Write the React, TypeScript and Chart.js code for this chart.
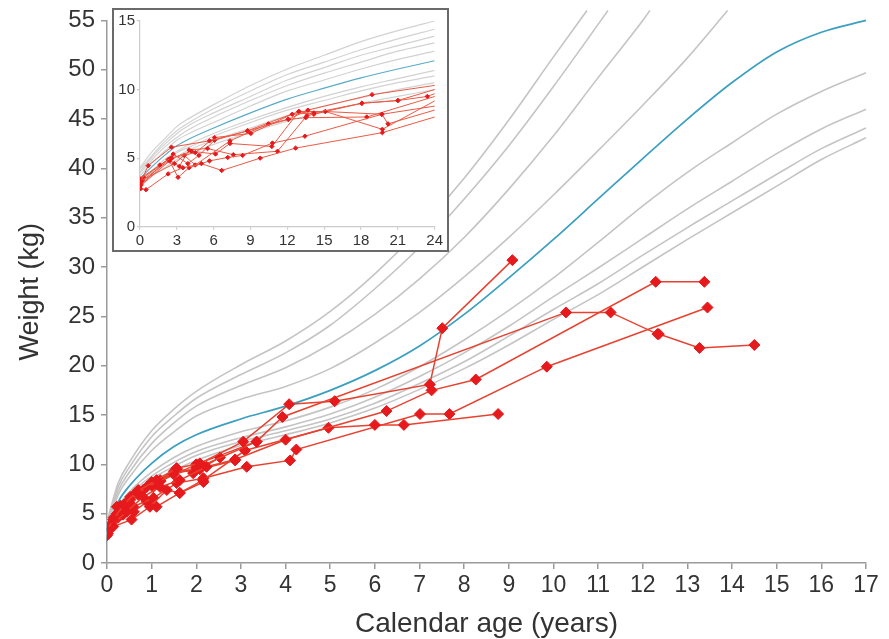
import React, { useEffect, useRef } from 'react';
import { Chart, registerables } from 'chart.js';

Chart.register(...registerables);

// ---------------- Main chart data (age in years, weight in kg) ----------------
const refAges = [0, 0.25, 0.5, 1, 1.5, 2, 3, 4, 5, 6, 7, 8, 9, 10, 11, 12, 13, 14, 15, 16, 17];
const refMedian = [3.3, 6.2, 7.8, 10.1, 11.8, 13.0, 14.6, 15.9, 17.5, 19.5, 22.0, 25.2, 28.9, 32.8, 36.9, 41.0, 45.0, 48.7, 51.8, 53.8, 55.0];
const refLow1 = [3.1, 5.7, 7.2, 9.2, 10.7, 11.8, 13.3, 14.4, 15.8, 17.6, 19.9, 22.6, 25.6, 28.9, 32.5, 36.2, 39.6, 42.6, 45.5, 47.8, 49.7];
const refLow2 = [3.0, 5.5, 6.9, 8.8, 10.2, 11.3, 12.7, 13.8, 15.1, 16.8, 18.9, 21.3, 24.0, 27.0, 29.9, 32.9, 35.9, 38.7, 41.5, 44.0, 46.0];
const refLow3 = [2.9, 5.3, 6.7, 8.5, 9.8, 10.9, 12.3, 13.4, 14.6, 16.2, 18.2, 20.4, 23.0, 25.7, 28.3, 31.2, 34.0, 36.7, 39.4, 42.0, 44.1];
const refLow4 = [2.8, 5.1, 6.4, 8.2, 9.4, 10.4, 11.9, 13.0, 14.2, 15.7, 17.6, 19.7, 22.1, 24.7, 27.2, 30.0, 32.8, 35.5, 38.2, 40.9, 43.1];

const refHigh1Ages = [0, 0.25, 0.5, 1, 1.5, 2, 3, 4, 5, 6, 7, 8, 9, 10, 11, 12, 13, 13.9];
const refHigh1 = [3.6, 6.9, 8.7, 11.4, 13.3, 14.9, 16.6, 17.9, 19.7, 22.3, 25.4, 29.0, 33.0, 37.3, 41.8, 46.4, 51.2, 56.0];
const refHigh2Ages = [0, 0.25, 0.5, 1, 1.5, 2, 3, 4, 5, 6, 7, 8, 9, 10, 11, 12, 12.16];
const refHigh2 = [3.8, 7.3, 9.2, 12.1, 14.2, 15.9, 18.0, 19.8, 22.2, 25.2, 28.8, 33.0, 37.9, 43.3, 49.2, 55.0, 56.0];
const refHigh3Ages = [0, 0.25, 0.5, 1, 1.5, 2, 3, 4, 5, 6, 7, 8, 9, 10, 11, 11.22];
const refHigh3 = [4.0, 7.7, 9.7, 12.8, 14.9, 16.7, 19.1, 21.3, 24.1, 27.8, 32.0, 36.9, 42.3, 48.3, 54.6, 56.0];
const refHigh4Ages = [0, 0.25, 0.5, 1, 1.5, 2, 3, 4, 5, 6, 7, 8, 9, 10, 10.75];
const refHigh4 = [4.2, 8.1, 10.2, 13.4, 15.6, 17.4, 20.1, 22.5, 25.5, 29.3, 33.8, 39.0, 44.9, 51.3, 56.0];

const ptAAge = [0.0, 0.14, 0.37, 0.66, 1.11, 1.56, 2.08, 3.05, 4.08, 5.1, 7.23, 7.51, 9.08];
const ptAKg = [3.3, 4.4, 5.9, 7.2, 8.4, 9.6, 10.1, 12.3, 16.1, 16.4, 18.1, 23.8, 30.7];
const ptBAge = [0.07, 0.44, 0.81, 1.19, 1.63, 2.23, 2.87, 4.0, 6.26, 7.27, 8.26, 12.29, 13.38];
const ptBKg = [3.7, 5.2, 6.7, 7.7, 8.4, 9.75, 10.5, 12.5, 15.4, 17.5, 18.6, 28.5, 28.5];
const ptCAge = [0.02, 0.22, 0.52, 0.89, 1.49, 2.0, 3.35, 3.93, 10.28, 11.28, 12.33, 12.36, 13.27, 14.5];
const ptCKg = [3.0, 5.0, 6.4, 7.7, 9.0, 9.6, 12.3, 14.8, 25.4, 25.4, 23.2, 23.2, 21.8, 22.1];
const ptDAge = [0.0, 0.14, 0.55, 0.96, 1.34, 1.63, 2.15, 3.09, 4.96, 6.0, 6.65, 8.76];
const ptDKg = [2.8, 3.7, 4.4, 5.7, 7.4, 7.1, 8.4, 11.4, 13.7, 14.0, 14.0, 15.1];
const ptEAge = [0.05, 0.36, 0.59, 1.04, 1.56, 2.16, 3.13, 4.1, 4.24, 7.01, 7.67, 9.85, 13.45];
const ptEKg = [3.4, 4.9, 5.7, 6.6, 8.1, 8.6, 9.75, 10.4, 11.5, 15.1, 15.1, 19.9, 25.9];
const ptFAge = [0.0, 0.22, 0.52, 0.7, 1.03, 1.19, 1.56, 1.93, 2.53];
const ptFKg = [3.1, 5.7, 6.7, 7.4, 7.7, 8.4, 9.6, 9.1, 10.7];
const ptGAge = [0.1, 0.3, 0.5, 0.81, 1.11, 1.5, 2.08, 2.87];
const ptGKg = [4.0, 5.4, 6.0, 7.4, 8.0, 9.3, 9.5, 10.4];
const ptHAge = [0.05, 0.25, 0.6, 0.89, 1.11, 1.63, 2.16];
const ptHKg = [3.5, 4.6, 5.2, 6.2, 5.7, 7.1, 8.2];
const ptIAge = [0.15, 0.3, 0.45, 0.7, 1.0, 1.2, 2.0, 3.35];
const ptIKg = [4.6, 5.8, 6.2, 6.9, 8.2, 8.3, 10.0, 12.3];

const mainXTicks = { min: 0, max: 17, step: 1 };
const mainYTicks = { min: 0, max: 55, step: 5 };

// ---------------- Inset data (age in months, weight in kg) ----------------
const insetMonths = [0, 1, 2, 3, 4, 6, 9, 12, 15, 18, 21, 24];
const insetMedian = [3.5, 4.4, 5.2, 5.9, 6.4, 7.2, 8.3, 9.3, 10.1, 10.85, 11.5, 12.1];
const insetHigh1 = [3.7, 4.7, 5.5, 6.3, 6.8, 7.6, 8.8, 9.9, 10.7, 11.5, 12.2, 12.8];
const insetHigh2 = [3.9, 4.9, 5.8, 6.5, 7.1, 8.0, 9.2, 10.3, 11.2, 12.0, 12.8, 13.4];
const insetHigh3 = [4.0, 5.1, 6.0, 6.8, 7.4, 8.3, 9.5, 10.7, 11.6, 12.5, 13.2, 13.9];
const insetHigh4 = [4.2, 5.2, 6.2, 7.0, 7.6, 8.6, 9.9, 11.1, 12.0, 12.9, 13.7, 14.4];
const insetHigh5 = [4.3, 5.5, 6.4, 7.3, 7.9, 8.9, 10.3, 11.5, 12.5, 13.5, 14.3, 15.0];
const insetLow1 = [3.3, 4.1, 4.9, 5.5, 6.0, 6.8, 7.8, 8.7, 9.5, 10.2, 10.8, 11.4];
const insetLow2 = [3.2, 4.0, 4.7, 5.4, 5.8, 6.6, 7.6, 8.5, 9.2, 9.9, 10.5, 11.0];
const insetLow3 = [3.0, 3.8, 4.5, 5.1, 5.6, 6.3, 7.2, 8.1, 8.8, 9.4, 10.0, 10.5];
const insetLow4 = [2.9, 3.7, 4.3, 4.9, 5.3, 6.0, 6.9, 7.7, 8.4, 9.0, 9.5, 10.0];

const inAMon = [0.05, 0.67, 2.56, 5.66, 8.76, 12.08, 13.67, 18.9, 25.5];
const inAKg = [3.25, 4.45, 5.8, 6.26, 6.98, 7.83, 8.5, 9.63, 10.5];
const inBMon = [0, 1.62, 2.5, 4.5, 6.07, 9.03, 12.4, 14.16, 18.07, 21.0, 23.4, 25.5];
const inBKg = [3.5, 4.5, 5.0, 5.4, 6.5, 6.8, 8.2, 8.3, 9.0, 9.2, 9.5, 10.2];
const inCMon = [0.05, 0.49, 2.29, 3.5, 5.0, 6.66, 9.79, 12.67, 19.74, 25.5];
const inCKg = [2.77, 2.7, 3.85, 4.3, 4.6, 4.1, 5.0, 5.73, 6.86, 8.4];
const inDMon = [0.05, 2.4, 3.1, 4.0, 5.66, 7.15, 8.36, 10.79, 13.43, 19.7, 20.2, 25.5];
const inDKg = [3.0, 4.8, 3.6, 4.3, 4.8, 5.05, 5.2, 6.1, 6.6, 8.2, 7.5, 8.9];
const inEMon = [0.1, 2.6, 4.2, 6.15, 7.33, 10.74, 12.94, 15.1, 19.74, 25.5];
const inEKg = [3.3, 5.0, 5.5, 5.3, 6.07, 5.85, 8.4, 8.4, 7.1, 9.9];
const inFMon = [0.2, 2.8, 3.6, 4.5, 7.33, 10.46, 12.08, 13.5, 18.47, 25.5];
const inFKg = [3.4, 4.6, 5.2, 4.5, 6.26, 7.5, 7.83, 7.95, 8.0, 9.9];
const inGMon = [0.3, 2.3, 3.2, 4.0, 5.5, 7.6, 11.2, 13.6, 18.07, 21.0, 25.5];
const inGKg = [3.6, 4.9, 4.4, 5.6, 5.7, 5.25, 5.5, 8.1, 9.0, 9.2, 10.4];
const inHMon = [0.1, 2.7, 3.9, 4.8, 6.07, 8.76, 12.94, 14.16, 15.1, 19.7, 25.5];
const inHKg = [3.1, 5.3, 4.6, 5.2, 6.3, 7.0, 8.4, 8.2, 8.4, 8.2, 9.0];

const insetXTicks = { min: 0, max: 24, step: 3 };
const insetYTicks = { min: 0, max: 15, step: 5 };

// ---------------- helpers ----------------
const SANS = "'Liberation Sans', Arial, Helvetica, sans-serif";
const GRAY = '#c4c4c4';
const BLUE = '#3a9fc0';
const RED_LINE = '#e8412f';
const RED_MARK = '#e6191c';

const pts = (xs: number[], ys: number[]) => xs.map((x, i) => ({ x, y: ys[i] }));

const refLine = (xs: number[], ys: number[], color: string, width: number, order: number, noClip: boolean) => ({
  data: pts(xs, ys),
  borderColor: color,
  borderWidth: width,
  pointRadius: 0,
  cubicInterpolationMode: 'monotone' as const,
  ...(noClip ? { clip: false } : {}),
  order,
});

const patient = (xs: number[], ys: number[], r: number, lw: number, lineColor: string) => ({
  data: pts(xs, ys),
  borderColor: lineColor,
  borderWidth: lw,
  tension: 0,
  pointStyle: 'rectRot' as const,
  pointRadius: r,
  pointBackgroundColor: RED_MARK,
  pointBorderColor: RED_MARK,
  pointBorderWidth: 1,
  order: 0,
});

export default function App() {
  const mainRef = useRef<HTMLCanvasElement | null>(null);
  const insetRef = useRef<HTMLCanvasElement | null>(null);

  useEffect(() => {
    const axisColor = '#9a9a9a';
    const main = new Chart(mainRef.current as HTMLCanvasElement, {
      type: 'line',
      data: {
        datasets: [
          refLine(refAges, refLow4, GRAY, 1.6, 3, true),
          refLine(refAges, refLow3, GRAY, 1.6, 3, true),
          refLine(refAges, refLow2, GRAY, 1.6, 3, true),
          refLine(refAges, refLow1, GRAY, 1.6, 3, true),
          refLine(refHigh1Ages, refHigh1, GRAY, 1.6, 3, true),
          refLine(refHigh2Ages, refHigh2, GRAY, 1.6, 3, true),
          refLine(refHigh3Ages, refHigh3, GRAY, 1.6, 3, true),
          refLine(refHigh4Ages, refHigh4, GRAY, 1.6, 3, true),
          refLine(refAges, refMedian, BLUE, 1.7, 2, true),
          patient(ptAAge, ptAKg, 5.5, 1.5, RED_LINE),
          patient(ptBAge, ptBKg, 5.5, 1.5, RED_LINE),
          patient(ptCAge, ptCKg, 5.5, 1.5, RED_LINE),
          patient(ptDAge, ptDKg, 5.5, 1.5, RED_LINE),
          patient(ptEAge, ptEKg, 5.5, 1.5, RED_LINE),
          patient(ptFAge, ptFKg, 5.5, 1.5, RED_LINE),
          patient(ptGAge, ptGKg, 5.5, 1.5, RED_LINE),
          patient(ptHAge, ptHKg, 5.5, 1.5, RED_LINE),
          patient(ptIAge, ptIKg, 5.5, 1.5, RED_LINE),
        ] as any,
      },
      options: {
        animation: false,
        responsive: false,
        events: [],
        plugins: { legend: { display: false }, tooltip: { enabled: false } },
        layout: { padding: { left: 0, right: 23, top: 20, bottom: 0 } },
        scales: {
          x: {
            type: 'linear',
            min: mainXTicks.min,
            max: mainXTicks.max,
            afterFit: (s: any) => { s.height = 76; },
            ticks: { stepSize: mainXTicks.step, autoSkip: false, maxRotation: 0, color: '#333', padding: 5, font: { family: SANS, size: 23, lineHeight: 1 } },
            grid: { display: true, drawOnChartArea: false, drawTicks: true, tickLength: 6, color: axisColor, lineWidth: 1.5 },
            border: { display: true, color: axisColor, width: 1.5 },
            title: { display: true, text: 'Calendar age (years)', color: '#333', font: { family: SANS, size: 28, lineHeight: 1 }, padding: { top: 0, bottom: 1 } },
          },
          y: {
            type: 'linear',
            min: mainYTicks.min,
            max: mainYTicks.max,
            afterFit: (s: any) => { s.width = 107; },
            ticks: { stepSize: mainYTicks.step, autoSkip: false, color: '#333', padding: 6, font: { family: SANS, size: 24 } },
            grid: { display: true, drawOnChartArea: false, drawTicks: true, tickLength: 6, color: axisColor, lineWidth: 1.5 },
            border: { display: true, color: axisColor, width: 1.5 },
            title: { display: true, text: 'Weight (kg)', color: '#333', font: { family: SANS, size: 27, lineHeight: 1 }, padding: { top: 17, bottom: 0 } },
          },
        },
      } as any,
    });

    const insetAxis = '#cccccc';
    const INSET_GRAY = '#d2d2d2';
    const INSET_RED = '#ec5a45';
    const inset = new Chart(insetRef.current as HTMLCanvasElement, {
      type: 'line',
      data: {
        datasets: [
          refLine(insetMonths, insetLow4, INSET_GRAY, 1.2, 3, false),
          refLine(insetMonths, insetLow3, INSET_GRAY, 1.2, 3, false),
          refLine(insetMonths, insetLow2, INSET_GRAY, 1.2, 3, false),
          refLine(insetMonths, insetLow1, INSET_GRAY, 1.2, 3, false),
          refLine(insetMonths, insetHigh1, INSET_GRAY, 1.2, 3, false),
          refLine(insetMonths, insetHigh2, INSET_GRAY, 1.2, 3, false),
          refLine(insetMonths, insetHigh3, INSET_GRAY, 1.2, 3, false),
          refLine(insetMonths, insetHigh4, INSET_GRAY, 1.2, 3, false),
          refLine(insetMonths, insetHigh5, INSET_GRAY, 1.2, 3, false),
          refLine(insetMonths, insetMedian, '#5aaac8', 1.2, 2, false),
          patient(inAMon, inAKg, 2.2, 1, INSET_RED),
          patient(inBMon, inBKg, 2.2, 1, INSET_RED),
          patient(inCMon, inCKg, 2.2, 1, INSET_RED),
          patient(inDMon, inDKg, 2.2, 1, INSET_RED),
          patient(inEMon, inEKg, 2.2, 1, INSET_RED),
          patient(inFMon, inFKg, 2.2, 1, INSET_RED),
          patient(inGMon, inGKg, 2.2, 1, INSET_RED),
          patient(inHMon, inHKg, 2.2, 1, INSET_RED),
        ] as any,
      },
      options: {
        animation: false,
        responsive: false,
        events: [],
        plugins: { legend: { display: false }, tooltip: { enabled: false } },
        layout: { padding: { left: 0, right: 10.4, top: 9, bottom: 0 } },
        scales: {
          x: {
            type: 'linear',
            min: insetXTicks.min,
            max: insetXTicks.max,
            afterFit: (s: any) => { s.height = 23.3; },
            ticks: { stepSize: insetXTicks.step, autoSkip: false, maxRotation: 0, color: '#333', padding: 4, font: { family: SANS, size: 15, lineHeight: 1 } },
            grid: { display: true, drawOnChartArea: false, drawTicks: true, tickLength: 3, color: insetAxis, lineWidth: 1.2 },
            border: { display: true, color: insetAxis, width: 1.2 },
          },
          y: {
            type: 'linear',
            min: insetYTicks.min,
            max: insetYTicks.max,
            afterFit: (s: any) => { s.width = 26; },
            ticks: { stepSize: insetYTicks.step, autoSkip: false, color: '#333', padding: 2, font: { family: SANS, size: 15 } },
            grid: { display: true, drawOnChartArea: false, drawTicks: true, tickLength: 3, color: insetAxis, lineWidth: 1.2 },
            border: { display: true, color: insetAxis, width: 1.2 },
          },
        },
      } as any,
    });

    return () => {
      main.destroy();
      inset.destroy();
    };
  }, []);

  return (
    <div style={{ position: 'absolute', left: 0, top: 0, width: 889, height: 639, background: '#fff', overflow: 'hidden' }}>
      <canvas ref={mainRef} width={889} height={639} style={{ position: 'absolute', left: 0, top: 0 }} />
      <div
        style={{
          position: 'absolute',
          left: 112,
          top: 8,
          width: 337,
          height: 244,
          boxSizing: 'border-box',
          border: '2px solid #6a6a6a',
          background: '#fff',
        }}
      >
        <canvas ref={insetRef} width={333} height={240} style={{ display: 'block' }} />
      </div>
    </div>
  );
}
